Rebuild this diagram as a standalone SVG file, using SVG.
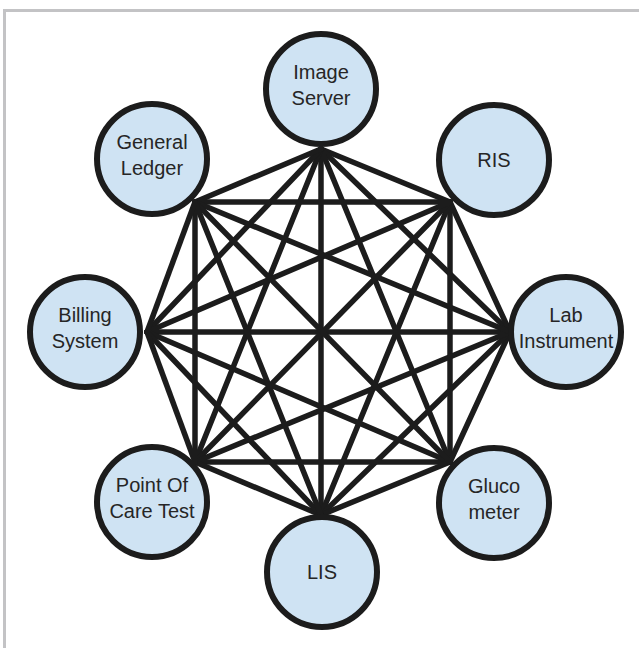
<svg xmlns="http://www.w3.org/2000/svg" width="639" height="648" viewBox="0 0 639 648">
<style>
.frame{fill:none;stroke:#c3c3c5;stroke-width:3}
.node circle{fill:#cfe3f3;stroke:#1c1c1c;stroke-width:6}
.node text{font-family:"Liberation Sans",Arial,sans-serif;font-size:20px;fill:#262626;text-anchor:middle}
#edges line{stroke:#1c1c1c;stroke-width:5.5;stroke-linecap:round}
</style>
<rect width="639" height="648" fill="#ffffff"/>
<path class="frame" d="M4.5,648 V10.5 H639"/>
<g id="edges">
<line x1="321" y1="149" x2="450" y2="202"/>
<line x1="321" y1="149" x2="510" y2="332"/>
<line x1="321" y1="149" x2="450" y2="462"/>
<line x1="321" y1="149" x2="321" y2="515"/>
<line x1="321" y1="149" x2="195" y2="462"/>
<line x1="321" y1="149" x2="147" y2="332"/>
<line x1="321" y1="149" x2="195" y2="202"/>
<line x1="450" y1="202" x2="510" y2="332"/>
<line x1="450" y1="202" x2="450" y2="462"/>
<line x1="450" y1="202" x2="321" y2="515"/>
<line x1="450" y1="202" x2="195" y2="462"/>
<line x1="450" y1="202" x2="147" y2="332"/>
<line x1="450" y1="202" x2="195" y2="202"/>
<line x1="510" y1="332" x2="450" y2="462"/>
<line x1="510" y1="332" x2="321" y2="515"/>
<line x1="510" y1="332" x2="195" y2="462"/>
<line x1="510" y1="332" x2="147" y2="332"/>
<line x1="510" y1="332" x2="195" y2="202"/>
<line x1="450" y1="462" x2="321" y2="515"/>
<line x1="450" y1="462" x2="195" y2="462"/>
<line x1="450" y1="462" x2="147" y2="332"/>
<line x1="450" y1="462" x2="195" y2="202"/>
<line x1="321" y1="515" x2="195" y2="462"/>
<line x1="321" y1="515" x2="147" y2="332"/>
<line x1="321" y1="515" x2="195" y2="202"/>
<line x1="195" y1="462" x2="147" y2="332"/>
<line x1="195" y1="462" x2="195" y2="202"/>
<line x1="147" y1="332" x2="195" y2="202"/>
</g>
<g id="image-server" class="node"><circle cx="321" cy="89" r="55"/><text x="321" y="79">Image</text><text x="321" y="105">Server</text></g>
<g id="ris" class="node"><circle cx="494" cy="160" r="55"/><text x="494" y="167">RIS</text></g>
<g id="lab-instrument" class="node"><circle cx="566" cy="332" r="55"/><text x="566" y="322">Lab</text><text x="566" y="348">Instrument</text></g>
<g id="glucometer" class="node"><circle cx="494" cy="503" r="55"/><text x="494" y="493">Gluco</text><text x="494" y="519">meter</text></g>
<g id="lis" class="node"><circle cx="322" cy="572" r="55"/><text x="322" y="579">LIS</text></g>
<g id="point-of-care-test" class="node"><circle cx="152" cy="502" r="55"/><text x="152" y="492">Point Of</text><text x="152" y="518">Care Test</text></g>
<g id="billing-system" class="node"><circle cx="85" cy="332" r="55"/><text x="85" y="322">Billing</text><text x="85" y="348">System</text></g>
<g id="general-ledger" class="node"><circle cx="152" cy="159" r="55"/><text x="152" y="149">General</text><text x="152" y="175">Ledger</text></g>
</svg>
